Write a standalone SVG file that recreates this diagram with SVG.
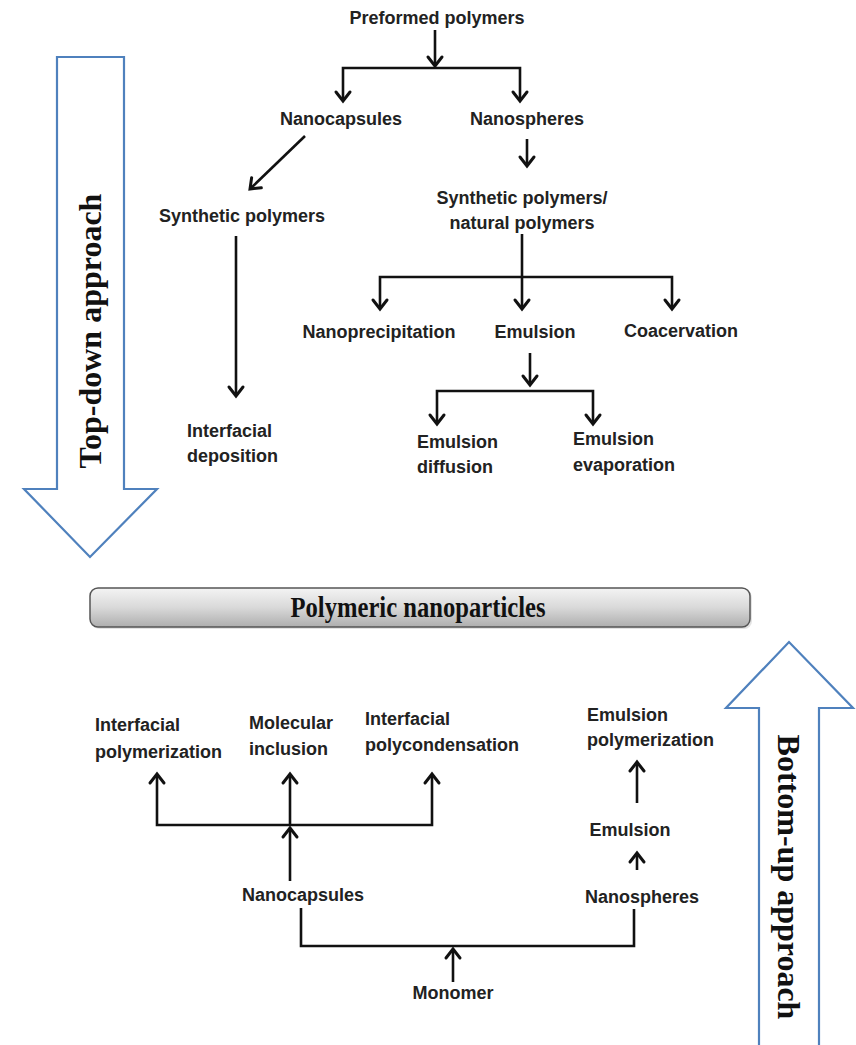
<svg xmlns="http://www.w3.org/2000/svg" width="856" height="1045" viewBox="0 0 856 1045">
<defs>
<style>
.t{font-family:"Liberation Sans",Arial,sans-serif;font-weight:bold;font-size:18px;fill:#222}
.c{text-anchor:middle}
.big{font-family:"Liberation Serif","Times New Roman",serif;font-weight:bold;fill:#111}
.ln{fill:none;stroke:#111;stroke-width:2.6;stroke-linejoin:miter}
.ar{marker-end:url(#chev)}
.blue{fill:#fff;stroke:#4f81bd;stroke-width:2.2;stroke-linejoin:miter}
</style>
<marker id="chev" markerUnits="userSpaceOnUse" markerWidth="24" markerHeight="24" viewBox="-14 -12 16 24" refX="0" refY="0" orient="auto">
<path d="M-9,-7 L0,0 L-9,7" fill="none" stroke="#111" stroke-width="3" stroke-linecap="round" stroke-linejoin="miter"/>
</marker>
<linearGradient id="gbox" x1="0" y1="0" x2="0" y2="1">
<stop offset="0" stop-color="#f4f4f4"/>
<stop offset="0.5" stop-color="#d9d9d9"/>
<stop offset="1" stop-color="#aeaeae"/>
</linearGradient>
</defs>
<rect width="856" height="1045" fill="#fff"/>

<g id="topdown-arrow">
<polygon class="blue" points="57,57 124,57 124,489 157,489 90,557 24,489 57,489"/>
<text class="big" font-size="32" text-anchor="middle" transform="translate(101,331) rotate(-90)">Top-down approach</text>
</g>

<g id="bottomup-arrow">
<polygon class="blue" points="759,1050 759,708 726,708 789,642 853,708 819,708 819,1050"/>
<text class="big" font-size="32" text-anchor="middle" transform="translate(778,877) rotate(90)">Bottom-up approach</text>
</g>

<g id="connectors">
<path class="ln ar" d="M435,30 V66"/>
<path class="ln ar" d="M435,68 H343 V101"/>
<path class="ln ar" d="M435,68 H520 V101"/>
<path class="ln ar" d="M305,136 L250,189"/>
<path class="ln ar" d="M527,139 V166"/>
<path class="ln ar" d="M236,236 V396"/>
<path class="ln ar" d="M522,234 V309"/>
<path class="ln ar" d="M522,277 H380 V309"/>
<path class="ln ar" d="M522,277 H672 V309"/>
<path class="ln ar" d="M530,353 V385"/>
<path class="ln ar" d="M530,391 H437 V424"/>
<path class="ln ar" d="M530,391 H593 V424"/>

<path class="ln ar" d="M453,982 V949"/>
<path class="ln" d="M301,908 V946 H634 V909"/>
<path class="ln ar" d="M290,881 V828"/>
<path class="ln ar" d="M290,825 H157 V774"/>
<path class="ln ar" d="M290,825 H432 V774"/>
<path class="ln ar" d="M290,825 V774"/>
<path class="ln ar" d="M637,870 V853"/>
<path class="ln ar" d="M637,803 V762"/>
</g>

<g id="n-preformed"><text class="t c" x="437" y="24">Preformed polymers</text></g>
<g id="n-nanocapsules-top"><text class="t c" x="341" y="125">Nanocapsules</text></g>
<g id="n-nanospheres-top"><text class="t c" x="527" y="125">Nanospheres</text></g>
<g id="n-synthetic"><text class="t c" x="242" y="222">Synthetic polymers</text></g>
<g id="n-synth-natural"><text class="t c" x="522" y="204">Synthetic polymers/</text><text class="t c" x="522" y="229">natural polymers</text></g>
<g id="n-nanoprecipitation"><text class="t c" x="379" y="338">Nanoprecipitation</text></g>
<g id="n-emulsion-top"><text class="t c" x="535" y="338">Emulsion</text></g>
<g id="n-coacervation"><text class="t c" x="681" y="337">Coacervation</text></g>
<g id="n-interfacial-deposition"><text class="t" x="187" y="437">Interfacial</text><text class="t" x="187" y="462">deposition</text></g>
<g id="n-emulsion-diffusion"><text class="t" x="417" y="448">Emulsion</text><text class="t" x="417" y="473">diffusion</text></g>
<g id="n-emulsion-evaporation"><text class="t" x="573" y="445">Emulsion</text><text class="t" x="573" y="471">evaporation</text></g>

<g id="n-polymeric-nanoparticles">
<rect x="92" y="590" width="660" height="39" rx="8" ry="8" fill="#d0d0d0" opacity="0.6"/>
<rect x="90" y="588" width="660" height="39" rx="8" ry="8" fill="url(#gbox)" stroke="#555" stroke-width="1.5"/>
<text class="big" font-size="29" text-anchor="middle" x="418" y="617" textLength="255" lengthAdjust="spacingAndGlyphs">Polymeric nanoparticles</text>
</g>

<g id="n-interfacial-polymerization"><text class="t" x="95" y="731">Interfacial</text><text class="t" x="95" y="758">polymerization</text></g>
<g id="n-molecular-inclusion"><text class="t" x="249" y="729">Molecular</text><text class="t" x="249" y="755">inclusion</text></g>
<g id="n-interfacial-polycondensation"><text class="t" x="365" y="725">Interfacial</text><text class="t" x="365" y="751">polycondensation</text></g>
<g id="n-emulsion-polymerization"><text class="t" x="587" y="721">Emulsion</text><text class="t" x="587" y="746">polymerization</text></g>
<g id="n-emulsion-bottom"><text class="t c" x="630" y="836">Emulsion</text></g>
<g id="n-nanospheres-bottom"><text class="t c" x="642" y="903">Nanospheres</text></g>
<g id="n-nanocapsules-bottom"><text class="t c" x="303" y="901">Nanocapsules</text></g>
<g id="n-monomer"><text class="t c" x="453" y="999">Monomer</text></g>
</svg>
